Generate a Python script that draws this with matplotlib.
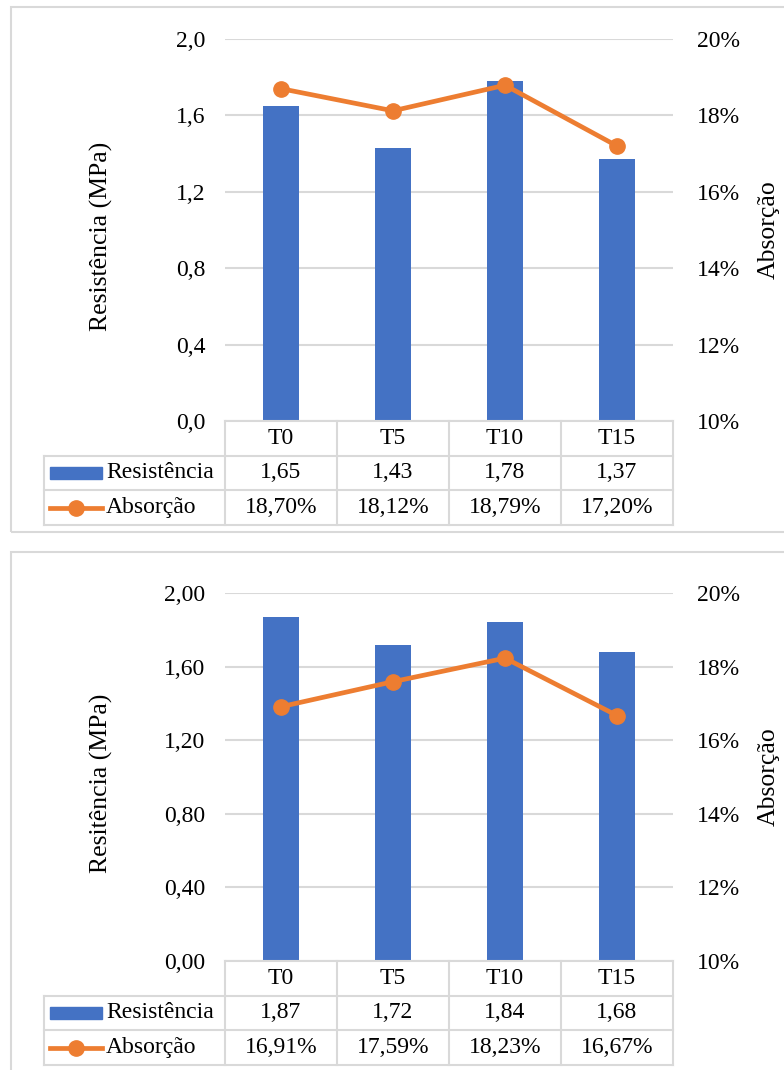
import matplotlib
matplotlib.use("Agg")
import matplotlib.pyplot as plt
from matplotlib.patches import Rectangle
from matplotlib.ticker import FuncFormatter

plt.rcParams["font.family"] = ["Liberation Serif", "DejaVu Serif"]

categorias = ["T0", "T5", "T10", "T15"]
resist_1 = [1.65, 1.43, 1.78, 1.37]
absorc_1 = [0.1870, 0.1812, 0.1879, 0.1720]
resist_2 = [1.87, 1.72, 1.84, 1.68]
absorc_2 = [0.1691, 0.1759, 0.1823, 0.1667]
ylabel_1 = "Resistência (MPa)"
ylabel_2 = "Resitência (MPa)"   # assim no original

AZUL, LARANJA, CINZA = "#4472C4", "#ED7D31", "#D9D9D9"
W, H = 784, 1070
FS = 17        # ticks e tabela
FS_LAB = 18.5  # titulos dos eixos

fig = plt.figure(figsize=(W / 100, H / 100), dpi=100)


def fx(px):
    return px / W


def fy(py):
    return 1 - py / H


def painel(borda, ax_top, ax_bot, tab_bot, resist, absorc, ylabel, dec):
    # moldura do painel (estilo Excel)
    fig.patches.append(Rectangle((fx(11), fy(borda[1])), fx(800) - fx(11),
                                 fy(borda[0]) - fy(borda[1]), transform=fig.transFigure,
                                 fill=False, ec=CINZA, lw=1.5))
    x0, x1 = 225, 673
    ax = fig.add_axes([fx(x0), fy(ax_bot), fx(x1) - fx(x0), fy(ax_top) - fy(ax_bot)])
    xs = range(len(categorias))
    ax.bar(xs, resist, width=0.32, color=AZUL, zorder=2)
    ax.set_xlim(-0.5, len(categorias) - 0.5)
    ax.set_ylim(0, 2)
    ax.set_yticks([0, 0.4, 0.8, 1.2, 1.6, 2.0])
    ax.yaxis.set_major_formatter(FuncFormatter(lambda v, p: f"{v:.{dec}f}".replace(".", ",")))
    ax.set_xticks([])
    ax.grid(axis="y", color=CINZA, lw=1.5, zorder=0)
    for s in ax.spines.values():
        s.set_visible(False)
    ax.tick_params(axis="y", length=0, pad=14, labelsize=FS)

    ax2 = ax.twinx()
    ax2.plot(xs, absorc, color=LARANJA, lw=3.4, marker="o", ms=11, zorder=3)
    ax2.set_ylim(0.10, 0.20)
    ax2.set_yticks([0.10, 0.12, 0.14, 0.16, 0.18, 0.20])
    ax2.yaxis.set_major_formatter(FuncFormatter(lambda v, p: f"{v * 100:.0f}%"))
    for s in ax2.spines.values():
        s.set_visible(False)
    ax2.tick_params(axis="y", length=0, pad=17, labelsize=FS)

    fig.text(fx(101), fy((ax_top + ax_bot) / 2 + 6), ylabel, rotation=90,
             ha="center", va="center", fontsize=FS_LAB)
    fig.text(fx(769), fy((ax_top + ax_bot) / 2), "Absorção", rotation=90,
             ha="center", va="center", fontsize=FS_LAB)

    # tabela de dados
    tx0 = 44
    cw = (x1 - x0) / len(categorias)
    left = -0.5 - (x0 - tx0) / cw
    t = fig.add_axes([fx(tx0), fy(tab_bot), fx(x1) - fx(tx0), fy(ax_bot) - fy(tab_bot)])
    t.set_xlim(left, len(categorias) - 0.5)
    t.set_ylim(3, 0)
    t.axis("off")
    kw = dict(color=CINZA, lw=1.5, clip_on=False)
    t.plot([-0.5, len(categorias) - 0.5], [0, 0], **kw)
    for r in (1, 2, 3):
        t.plot([left, len(categorias) - 0.5], [r, r], **kw)
    for c in range(len(categorias) + 1):
        t.plot([c - 0.5, c - 0.5], [0, 3], **kw)
    t.plot([left, left], [1, 3], **kw)

    def u(px):
        return left + (px - tx0) / cw

    for i, cat in enumerate(categorias):
        t.text(i, 0.5, cat, ha="center", va="center", fontsize=FS)
        t.text(i, 1.5, f"{resist[i]:.2f}".replace(".", ","), ha="center", va="center", fontsize=FS)
        t.text(i, 2.5, f"{absorc[i] * 100:.2f}%".replace(".", ","), ha="center", va="center", fontsize=FS)
    t.add_patch(Rectangle((u(50), 1.33), u(102) - u(50), 0.34, color=AZUL, clip_on=False))
    t.plot([u(50), u(102)], [2.5, 2.5], color=LARANJA, lw=3.4, clip_on=False)
    t.plot([u(76)], [2.5], color=LARANJA, marker="o", ms=11, clip_on=False)
    t.text(u(106), 1.5, "Resistência", ha="left", va="center", fontsize=FS)
    t.text(u(106), 2.5, "Absorção", ha="left", va="center", fontsize=FS)


painel((7, 532), 39, 421, 525, resist_1, absorc_1, ylabel_1, 1)
painel((552, 1090), 593, 961, 1065, resist_2, absorc_2, ylabel_2, 2)

fig.savefig("out.png", dpi=100)
